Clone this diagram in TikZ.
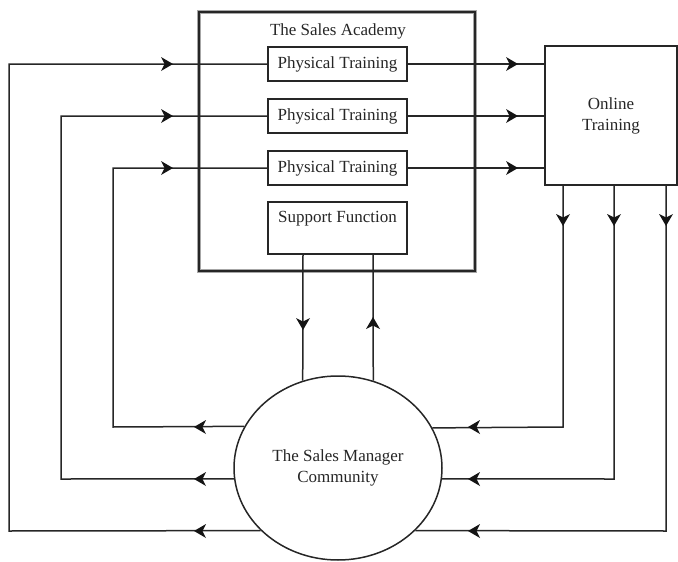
\documentclass[tikz,border=0pt]{standalone}
\usepackage{fontspec}
\setmainfont{Liberation Serif}
\newfontfamily\diagfont{Liberation Serif}
\usetikzlibrary{shapes.geometric}
\tikzset{
  headpic/.pic={\fill[black!92] (0,0) -- (-12,-7) -- (-8.5,0) -- (-12,7) -- cycle;}
}
\begin{document}
\begin{tikzpicture}[x=1pt,y=-1pt,
  conn/.style={draw=black!85, line width=1.5pt},
  txt/.style={font=\diagfont\fontsize{17}{21}\selectfont, text=black!85, inner sep=0pt},
  box/.style={draw=black!85, line width=1.5pt, minimum width=139pt, minimum height=34pt, inner sep=0pt, font=\diagfont\fontsize{17}{21}\selectfont, text=black!85, fill=white},
  frame/.style={draw=black!85, line width=2.4pt, minimum width=276pt, minimum height=259pt, inner sep=0pt,
    preaction={draw=black!35, line width=4.6pt}},
  ell/.style={ellipse, draw=black!85, line width=1.5pt, minimum width=208pt, minimum height=184pt, inner sep=0pt, align=center, font=\diagfont\fontsize{17}{21}\selectfont, text=black!85}
]
\useasboundingbox (0,0) rectangle (678,562);
% nodes
\node[frame] (A) at (337,141.5) {};
\node[txt] (At) at (338,31) {The Sales Academy};
\node[box] (P1) at (337.5,64) {Physical Training};
\node[box] (P2) at (337.5,116) {Physical Training};
\node[box] (P3) at (337.5,168) {Physical Training};
\node[box, minimum height=52pt] (S) at (337.5,228) {};
\node[txt] (St) at (337.5,219) {Support Function};
\node[box, minimum width=132pt, minimum height=139pt, align=center] (O) at (611,115.5) {Online\\Training};
\node[ell] (E) at (338,468) {The Sales Manager\\Community};
% helper coordinates
\coordinate (aL1) at (194,427);
\coordinate (aL2) at (194,479);
\coordinate (aL3) at (194,531);
\coordinate (cL1) at (113,0);
\coordinate (cL2) at (61,0);
\coordinate (cL3) at (9,0);
\coordinate (aT1) at (173,64);
\coordinate (aT2) at (173,116);
\coordinate (aT3) at (173,168);
\coordinate (aO1) at (518,64);
\coordinate (aO2) at (518,116);
\coordinate (aO3) at (518,168);
\coordinate (xR1) at (563,0);
\coordinate (xR2) at (614,0);
\coordinate (xR3) at (666,0);
\coordinate (aD) at (0,226);
\coordinate (aR1) at (468,427);
\coordinate (aR2) at (468,479);
\coordinate (aR3) at (468,531);
\coordinate (aS1) at (303,330);
\coordinate (aS2) at (373,317);
% left loops: community -> physical training
\draw[conn] (E.156.23) -- (aL1 -| cL1) -- (aT3 -| cL1) -- (P3.west);
\draw[conn] (E.186.08) -- (aL2 -| cL2) -- (aT2 -| cL2) -- (P2.west);
\draw[conn] (E.219.74) -- (aL3 -| cL3) -- (aT1 -| cL3) -- (P1.west);
% physical training -> online
\draw[conn] (P1.east) -- (O.west |- aO1);
\draw[conn] (P2.east) -- (O.west |- aO2);
\draw[conn] (P3.east) -- (O.west |- aO3);
% online -> community
\draw[conn] (O.south -| xR1) -- (aR1 -| xR1) -- (E.23.77);
\draw[conn] (O.south -| xR2) -- (aR2 -| xR2) -- (E.-6.08);
\draw[conn] (O.south -| xR3) -- (aR3 -| xR3) -- (E.-39.74);
% support function <-> community
\draw[conn] (S.south -| aS1) -- (E.112);
\draw[conn] (E.68) -- (S.south -| aS2);
% arrowheads
\foreach \p in {aL1,aL2,aL3,aR1,aR2,aR3} \pic[rotate=180] at (\p) {headpic};
\foreach \p in {aT1,aT2,aT3,aO1,aO2,aO3} \pic at (\p) {headpic};
\foreach \p in {xR1,xR2,xR3} \pic[rotate=-90] at (aD -| \p) {headpic};
\pic[rotate=-90] at (aS1) {headpic};
\pic[rotate=90] at (aS2) {headpic};
\end{tikzpicture}
\end{document}
